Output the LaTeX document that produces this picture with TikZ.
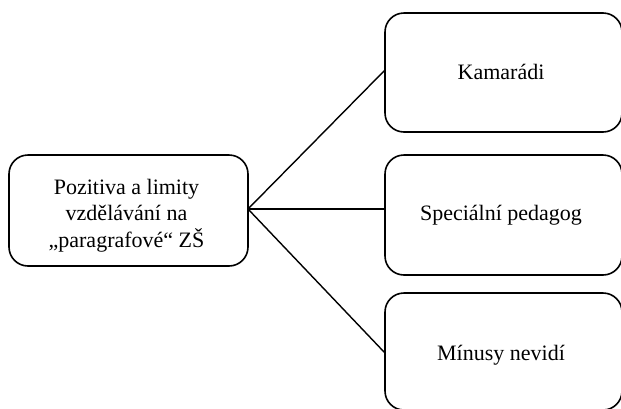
\documentclass[tikz,border=0pt]{standalone}
\usepackage{fontspec}
\setmainfont{Liberation Serif}
\begin{document}
\begin{tikzpicture}[x=1pt,y=-1pt,
  box/.style={draw=black, line width=1.6pt, rounded corners=19pt},
  lbl/.style={font=\fontsize{22}{26.5}\selectfont, align=center, inner sep=0pt, anchor=base},
  conn/.style={draw=black, line width=1.4pt}]
\useasboundingbox (0,0) rectangle (621,408);
\draw[box] (9,155) rectangle (248,266);
\node[lbl] (src) at (126.5,247) {Pozitiva a limity\\vzdělávání na\\„paragrafové“ ZŠ};
\coordinate (hub) at (248,209);
\draw[box] (385,13) rectangle (622,132);
\node[lbl] (k) at (501,79) {Kamarádi};
\draw[box] (385,155) rectangle (622,275);
\node[lbl] (s) at (501,220) {Speciální pedagog};
\draw[box] (385,293) rectangle (622,410);
\node[lbl] (m) at (501,360) {Mínusy nevidí};
\coordinate (kin) at (385,70);
\coordinate (sin) at (385,209);
\coordinate (min) at (385,353);
\draw[conn] (hub) -- (kin);
\draw[conn] (hub) -- (sin);
\draw[conn] (hub) -- (min);
\end{tikzpicture}
\end{document}
